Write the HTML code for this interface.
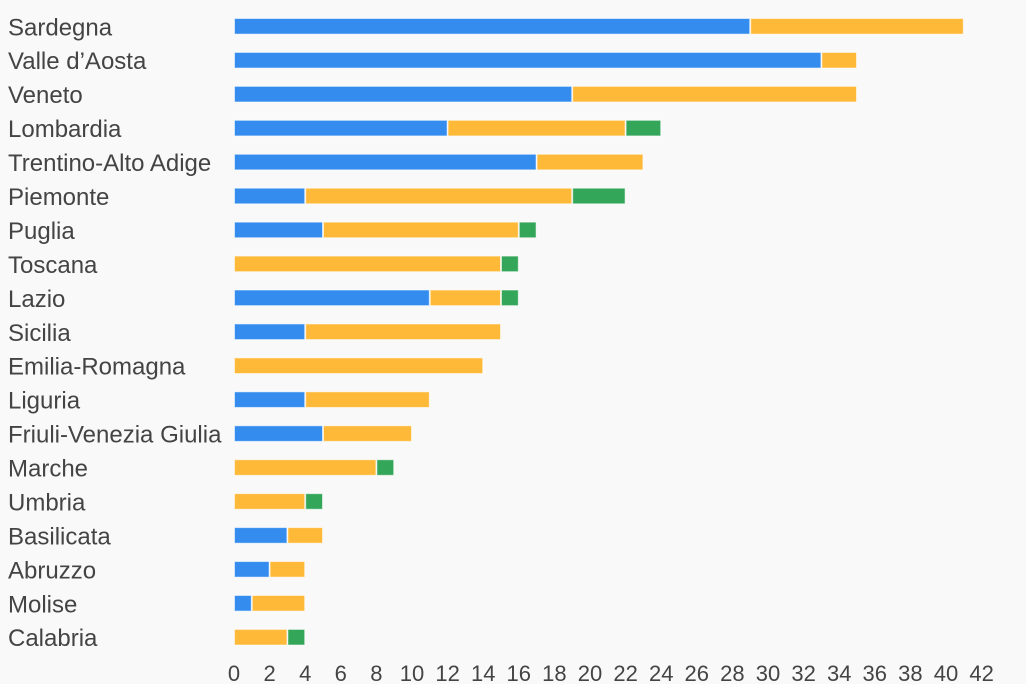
<!DOCTYPE html>
<html><head><meta charset="utf-8"><style>
html,body{margin:0;padding:0;background:#f9f9f9;}
svg{display:block;}
text{font-family:"Liberation Sans",Arial,sans-serif;fill:#444;}
</style></head><body>
<svg width="1026" height="684" viewBox="0 0 1026 684" xmlns="http://www.w3.org/2000/svg">
<rect width="1026" height="684" fill="#f9f9f9"/>
<g id="bars" stroke="rgba(255,255,255,0.55)" stroke-width="1"></g>
<g id="labels" font-size="24"></g>
<g id="ticks" font-size="22" text-anchor="middle"></g>
</svg>
<script>
var data=[["Sardegna",29,12,0],["Valle d\u2019Aosta",33,2,0],["Veneto",19,16,0],["Lombardia",12,10,2],["Trentino-Alto Adige",17,6,0],["Piemonte",4,15,3],["Puglia",5,11,1],["Toscana",0,15,1],["Lazio",11,4,1],["Sicilia",4,11,0],["Emilia-Romagna",0,14,0],["Liguria",4,7,0],["Friuli-Venezia Giulia",5,5,0],["Marche",0,8,1],["Umbria",0,4,1],["Basilicata",3,2,0],["Abruzzo",2,2,0],["Molise",1,3,0],["Calabria",0,3,1]];
var NS="http://www.w3.org/2000/svg";
var x0=234,u=17.80,cols=["#348dee","#ffb939","#34a65a"];
var gb=document.getElementById("bars"),gl=document.getElementById("labels"),gt=document.getElementById("ticks");
data.forEach(function(d,i){
  var top=18+i*33.94,h=16.6,acc=0;
  for(var k=0;k<3;k++){
    var v=d[k+1];if(!v)continue;
    var r=document.createElementNS(NS,"rect");
    var xs=x0+acc*u,xe=x0+(acc+v)*u;
    r.setAttribute("x",xs+0.5);r.setAttribute("y",top+0.5);
    r.setAttribute("width",xe-xs-1);r.setAttribute("height",h-1);
    r.setAttribute("fill",cols[k]);gb.appendChild(r);acc+=v;
  }
  var t=document.createElementNS(NS,"text");
  t.setAttribute("x",8);t.setAttribute("y",top+h/2+9);
  t.textContent=d[0];gl.appendChild(t);
});
for(var v=0;v<=42;v+=2){
  var t=document.createElementNS(NS,"text");
  t.setAttribute("x",x0+v*u);t.setAttribute("y",681);
  t.textContent=v;gt.appendChild(t);
}
</script>
</body></html>
